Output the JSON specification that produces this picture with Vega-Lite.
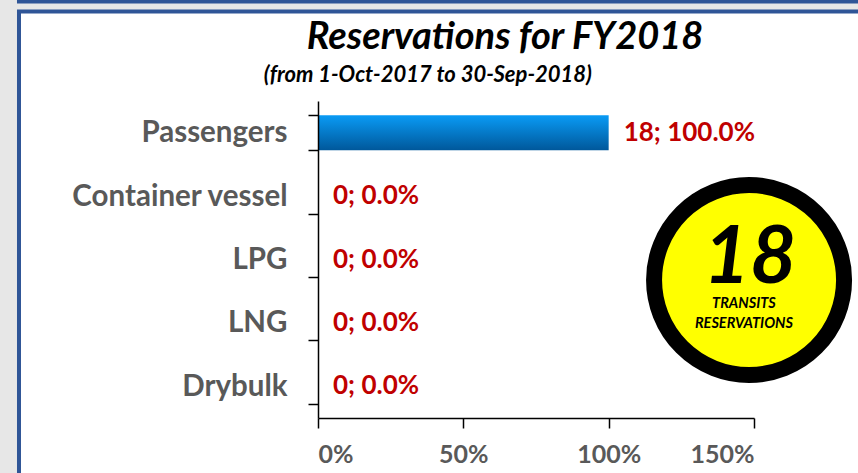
{
  "$schema": "https://vega.github.io/schema/vega-lite/v6.json",
  "width": 436,
  "height": 317,
  "autosize": {"type": "none"},
  "padding": {"left": 318, "top": 101, "right": 104, "bottom": 55},
  "background": "#e7e7e7",
  "config": {"view": {"stroke": null}, "font": "Lato"},
  "title": {
    "text": "Reservations for FY2018",
    "font": "Lato",
    "fontSize": 38,
    "fontStyle": "italic",
    "fontWeight": "bold",
    "color": "#000000",
    "anchor": "middle",
    "frame": "group",
    "baseline": "alphabetic",
    "offset": 0,
    "dy": 87,
    "dx": -31
  },
  "resolve": {"scale": {"y": "independent"}},
  "layer": [
    {
      "data": {"values": [
        {"part": "panel", "x0": -1.0287, "x1": 1.933, "y0": -1.136, "y1": 6.412}
      ]},
      "mark": {"type": "rect", "fill": "#ffffff", "stroke": "#2F5597", "strokeWidth": 4, "clip": false},
      "encoding": {
        "x": {"field": "x0", "type": "quantitative", "scale": {"domain": [0, 1.5], "nice": false, "zero": false}},
        "x2": {"field": "x1"},
        "y": {"field": "y0", "type": "quantitative", "scale": {"domain": [0, 5], "nice": false, "zero": false}, "axis": null},
        "y2": {"field": "y1"}
      }
    },
    {
      "data": {"values": [
        {"part": "strip", "x0": -1.0356, "x1": 1.933, "y0": 6.538, "y1": 6.593}
      ]},
      "mark": {"type": "rect", "fill": "#2F5597", "clip": false},
      "encoding": {
        "x": {"field": "x0", "type": "quantitative", "scale": {"domain": [0, 1.5], "nice": false, "zero": false}},
        "x2": {"field": "x1"},
        "y": {"field": "y0", "type": "quantitative", "scale": {"domain": [0, 5], "nice": false, "zero": false}, "axis": null},
        "y2": {"field": "y1"}
      }
    },
    {
      "data": {"values": [
        {"type": "Passengers", "transits": 18, "share": 1.0, "label": "18; 100.0%"},
        {"type": "Container vessel", "transits": 0, "share": 0.0, "label": "0; 0.0%"},
        {"type": "LPG", "transits": 0, "share": 0.0, "label": "0; 0.0%"},
        {"type": "LNG", "transits": 0, "share": 0.0, "label": "0; 0.0%"},
        {"type": "Drybulk", "transits": 0, "share": 0.0, "label": "0; 0.0%"}
      ]},
      "encoding": {
        "y": {
          "field": "type",
          "type": "nominal",
          "sort": null,
          "scale": {"paddingInner": 0.45, "paddingOuter": 0.225},
          "axis": {
            "title": null,
            "zindex": 2,
            "labelFont": "Lato",
            "labelFontSize": 29.5,
            "labelFontWeight": "bold",
            "labelColor": "#595959",
            "labelPadding": 21,
            "labelLimit": 400,
            "tickBand": "extent",
            "tickSize": 10,
            "tickColor": "#000000",
            "tickWidth": 1.5,
            "domainColor": "#000000",
            "domainWidth": 1.5
          }
        }
      },
      "layer": [
        {
          "mark": {
            "type": "bar",
            "fill": {
              "gradient": "linear",
              "x1": 0, "y1": 0, "x2": 0, "y2": 1,
              "stops": [
                {"offset": 0, "color": "#0A9BF5"},
                {"offset": 1, "color": "#00589B"}
              ]
            }
          },
          "encoding": {
            "x": {
              "field": "share",
              "type": "quantitative",
              "scale": {"domain": [0, 1.5], "nice": false, "zero": false},
              "axis": {
                "title": null,
                "zindex": 2,
                "values": [0, 0.5, 1, 1.5],
                "format": ".0%",
                "grid": false,
                "labelFont": "Lato",
                "labelFontSize": 25,
                "labelFontWeight": "bold",
                "labelColor": "#595959",
                "labelPadding": 14,
                "tickSize": 10,
                "tickColor": "#000000",
                "tickWidth": 1.5,
                "domainColor": "#000000",
                "domainWidth": 1.5
              }
            }
          }
        },
        {
          "mark": {"type": "text", "align": "left", "baseline": "middle", "dx": 15, "font": "Lato", "fontSize": 26, "fontWeight": "bold", "color": "#C00000"},
          "encoding": {
            "x": {"field": "share", "type": "quantitative", "scale": {"domain": [0, 1.5], "nice": false, "zero": false}},
            "text": {"field": "label"}
          }
        }
      ]
    },
    {
      "data": {"values": [{"note": "period", "text": "(from 1-Oct-2017 to 30-Sep-2018)", "x": 0.378, "y": 5.3}]},
      "mark": {"type": "text", "align": "center", "baseline": "alphabetic", "font": "Lato", "fontSize": 22, "fontWeight": "bold", "fontStyle": "italic", "color": "#000000", "clip": false},
      "encoding": {
        "x": {"field": "x", "type": "quantitative", "scale": {"domain": [0, 1.5], "nice": false, "zero": false}},
        "y": {"field": "y", "type": "quantitative", "scale": {"domain": [0, 5], "nice": false, "zero": false}, "axis": null},
        "text": {"field": "text"}
      }
    },
    {
      "data": {"values": [{"badge": "total", "x": 1.483, "y": 2.176}]},
      "mark": {"type": "point", "shape": "circle", "filled": false, "fill": "#FFFF00", "fillOpacity": 1, "stroke": "#000000", "strokeWidth": 16, "opacity": 1, "size": 36100, "clip": false},
      "encoding": {
        "x": {"field": "x", "type": "quantitative", "scale": {"domain": [0, 1.5], "nice": false, "zero": false}},
        "y": {"field": "y", "type": "quantitative", "scale": {"domain": [0, 5], "nice": false, "zero": false}, "axis": null}
      }
    },
    {
      "data": {"values": [{"text": "18", "x": 1.486, "y": 2.129}]},
      "mark": {"type": "text", "align": "center", "baseline": "alphabetic", "font": "Lato", "fontSize": 80, "fontWeight": "bold", "fontStyle": "italic", "color": "#000000", "clip": false},
      "encoding": {
        "x": {"field": "x", "type": "quantitative", "scale": {"domain": [0, 1.5], "nice": false, "zero": false}},
        "y": {"field": "y", "type": "quantitative", "scale": {"domain": [0, 5], "nice": false, "zero": false}, "axis": null},
        "text": {"field": "text"}
      }
    },
    {
      "data": {"values": [
        {"text": "TRANSITS", "x": 1.4654, "y": 1.735},
        {"text": "RESERVATIONS", "x": 1.4654, "y": 1.42}
      ]},
      "mark": {"type": "text", "align": "center", "baseline": "alphabetic", "font": "Lato", "fontSize": 14.5, "fontWeight": "bold", "fontStyle": "italic", "color": "#000000", "clip": false},
      "encoding": {
        "x": {"field": "x", "type": "quantitative", "scale": {"domain": [0, 1.5], "nice": false, "zero": false}},
        "y": {"field": "y", "type": "quantitative", "scale": {"domain": [0, 5], "nice": false, "zero": false}, "axis": null},
        "text": {"field": "text"}
      }
    }
  ]
}
